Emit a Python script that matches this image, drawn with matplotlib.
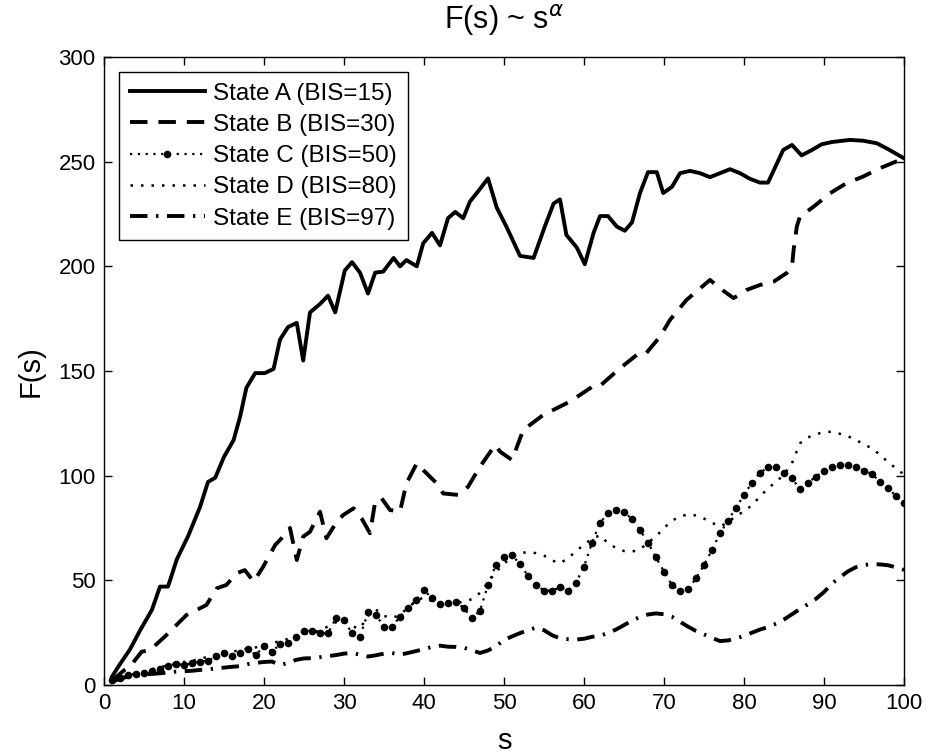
import matplotlib
matplotlib.use("Agg")
import matplotlib.pyplot as plt

plt.rcParams["font.family"] = ["Liberation Sans", "DejaVu Sans"]

# state A (solid)
s_a = [1, 2, 3.25, 4.5, 6, 7, 8, 9.1, 10.5, 12, 13, 13.9, 15, 16.2, 17, 17.8,
       18.9, 20.1, 21.2, 22, 23, 24.1, 24.9, 25.75, 27, 28, 28.9, 30.1, 31, 32,
       33, 33.9, 34.9, 36.2, 37, 37.8, 39.1, 39.9, 41, 42, 43, 43.9, 44.9, 45.75,
       46.8, 48, 49.1, 50.3, 52, 53.7, 55.1, 56.2, 57, 57.8, 59.1, 60.1, 61.2, 62,
       63, 64.1, 65.1, 66, 67, 68, 69.1, 69.9, 71, 72, 73.25, 74.5, 75.75, 77,
       78.25, 79.5, 80.75, 82, 83, 84.1, 84.9, 86, 87.2, 88.5, 89.7, 91, 93.25,
       94.9, 96.6, 98, 100]
f_a = [4, 10, 17, 26, 36, 47, 47, 60, 71, 85, 97, 99, 109, 117, 128, 142,
       149, 149, 151, 165, 171, 173, 155, 178, 182, 186, 178, 198, 202, 197,
       187, 197, 197.5, 204, 200, 203, 200, 211, 216, 210, 223, 226, 223, 231,
       236, 242, 228, 219, 205, 204, 219, 230, 232, 215, 209, 201, 216, 224,
       224, 219, 217, 221, 235, 245, 245, 235, 238, 244.5, 245.6, 244.5, 242.6, 244.5,
       246.4, 244.5, 241.8, 240, 240, 249, 255.6, 258, 253, 255.6, 258.3, 259.4, 260.4,
       260, 258.8, 256, 251.6]

# state B (dashed)
s_b = [1, 2.5, 3.5, 4.7, 5.75, 7.6, 10.3, 12.8, 14.1, 15.3, 16.6, 17.6, 18.7,
       19.9, 21.4, 22.2, 23.25, 24.1, 24.9, 25.75, 27, 27.8, 29.1, 29.9, 31.2,
       32.2, 33.25, 33.9, 34.7, 35.75, 37, 37.8, 39.1, 39.9, 41.6, 42.4, 44.3,
       45.5, 47, 48.9, 49.5, 51, 52.4, 54.9, 58.25, 61.2, 62, 64.5, 66.6, 67.6,
       69.5, 70.75, 72.8, 75.75, 77, 78.7, 80.3, 82, 83.7, 85.3, 86, 86.2, 86.6,
       87, 88.7, 90.75, 92.8, 94.9, 97, 100]
f_b = [2, 7, 10, 15.9, 16.7, 23.1, 33.4, 38.2, 46.2, 47.8, 53.4, 54.9, 49.4,
       56.5, 66.9, 70.1, 75, 59.7, 70.9, 73.2, 82.8, 70.1, 78, 81.2, 84.4,
       79.6, 72.5, 87.6, 89.2, 83.6, 82.8, 96.3, 105.9, 102.7, 96.3, 91.5, 90.8,
       94.7, 104.3, 114.7, 111.5, 107.5, 121.8, 129, 135.4, 142.9, 142.9, 151.3, 157.7, 157.7,
       166.4, 174.4, 183.9, 193.5, 189.5, 184.8, 188.7, 191.1, 192.7, 196.7, 199.9, 207.8, 219,
       223.8, 228.5, 234.9, 239.7, 242.9, 246.9, 251.6]

s_grid = list(range(1, 101))

# state C (dotted with dots)
f_c = [2.4, 3.5, 4.8, 5.2, 5.8, 6.6, 7.8, 9.1, 10, 9.6,
       10.4, 11.2, 11.5, 13.9, 15.1, 13.9, 15.5, 17, 14.3, 18.8,
       15.9, 19.6, 20.2, 23.1, 25.9, 25.9, 24.7, 24.7, 31.9, 31.1,
       24.7, 23.1, 34.7, 33.4, 27.9, 27.9, 32.6, 36.6, 40.6, 45.4,
       41.4, 38.7, 39, 39.8, 36.6, 31.9, 35.5, 47.8, 57.5, 61,
       62, 57.8, 52.1, 47.8, 45.1, 45.1, 46.7, 45.1, 48.9, 56.5,
       68, 77.5, 82, 83.6, 82.8, 79.2, 74.1, 68, 61, 54.1,
       47.8, 45.1, 45.7, 51, 57.3, 64.5, 72.5, 78.5, 84.7, 90.8,
       96.7, 101.4, 104, 104, 101.4, 98.7, 93.5, 96.7, 99.5, 102.2,
       104, 105.1, 105.1, 104, 102.4, 100.8, 97.1, 94, 90.3, 87.1]

# state D (dotted)
f_d = [2, 3.5, 4.5, 5.5, 6.5, 7.5, 8.5, 9.5, 10.5, 11,
       11.5, 12.5, 13.5, 14.5, 15.5, 16, 16.5, 17.5, 18, 19,
       20, 21, 22, 23.5, 24.5, 25, 26, 28, 30, 30.5,
       28, 27, 33, 36, 33, 32, 33.5, 37, 40, 42,
       40, 38, 38, 39, 40, 41, 44, 49, 54, 58,
       61, 63, 63.5, 63, 61.8, 59.5, 58.2, 60.5, 64, 67,
       70, 71.5, 67.7, 65.5, 64, 63.7, 64.8, 68, 71, 75,
       78.5, 80.5, 81.5, 81, 79.5, 77.5, 75.8, 77.5, 81, 82.8,
       86, 90, 94, 97, 100.5, 106, 115.5, 118.3, 119.8, 120.8,
       121, 120, 118.8, 117, 115, 113, 110, 106.5, 103.5, 100.5]

# state E (dash-dot)
f_e = [1.5, 3, 4, 4.5, 5, 5.3, 5.6, 6, 6.4, 6.6,
       6.8, 7.2, 7.5, 7.9, 8.3, 8.7, 9, 10, 10.6, 11,
       11.2, 9.6, 10.5, 12, 12.7, 12.8, 13.3, 13.8, 14.3, 15,
       15.3, 14.5, 13.6, 14.2, 15, 15.3, 14.5, 15.3, 16.2, 17.2,
       18.2, 18.8, 18.3, 18.2, 17.8, 16.6, 15.3, 16.5, 18.5, 21.5,
       23.2, 24.8, 26.2, 27.4, 26.2, 23.8, 22.3, 21.9, 21.7, 22.1,
       23, 23.6, 24.8, 26.5, 28.6, 30.8, 32.5, 33.7, 34.2, 33.8,
       32.6, 30.2, 27.9, 25.8, 24.2, 22.5, 21, 21.3, 22.2, 23.5,
       25, 26.5, 27.7, 29.3, 31.3, 33.8, 36.3, 38.6, 41.2, 44.4,
       48.5, 51.5, 54.3, 56.3, 57.3, 57.8, 57.6, 57.2, 56.2, 55]

labels = ["State A (BIS=15)", "State B (BIS=30)", "State C (BIS=50)",
          "State D (BIS=80)", "State E (BIS=97)"]

fig = plt.figure(figsize=(9.31, 7.54), dpi=100)
ax = fig.add_axes([0.1117, 0.0915, 0.8593, 0.8329])

ax.plot(s_a, f_a, color="k", lw=2.8, solid_joinstyle="round", label=labels[0])
ax.plot(s_b, f_b, color="k", lw=2.8, dashes=(4.5, 2.8), label=labels[1])
ax.plot(s_grid, f_c, color="k", lw=1.6, dashes=(1, 2.5), marker="o", ms=5.5,
        markeredgewidth=0, label=labels[2])
ax.plot(s_grid, f_d, color="k", lw=1.8, dashes=(1, 3.2), label=labels[3])
ax.plot(s_grid, f_e, color="k", lw=2.8, dashes=(4.5, 2.2, 0.6, 2.2), label=labels[4])

ax.set_xlim(0, 100)
ax.set_ylim(0, 300)
ax.set_xticks(range(0, 101, 10))
ax.set_yticks(range(0, 301, 50))
ax.tick_params(direction="in", top=True, right=True, length=6, width=1,
               labelsize=16, pad=6)
for sp in ax.spines.values():
    sp.set_linewidth(1.0)

ax.set_title("F(s) ~ s$^{\\alpha}$", fontsize=22, pad=20)
ax.set_xlabel("s", fontsize=21, labelpad=9)
ax.set_ylabel("F(s)", fontsize=21, labelpad=10)

leg = ax.legend(loc="upper left", fontsize=17.5, numpoints=1, handlelength=3.1,
                handletextpad=0.35, labelspacing=0.38, borderpad=0.45,
                borderaxespad=0.6, fancybox=False, framealpha=1)
leg.get_frame().set_edgecolor("k")
leg.get_frame().set_linewidth(1.0)

fig.savefig("out.png", dpi=100)
